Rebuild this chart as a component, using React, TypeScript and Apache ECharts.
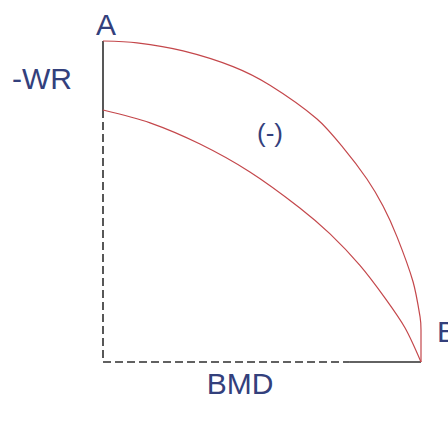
import React, { useEffect, useRef } from "react";
import * as echarts from "echarts";

// BMD (x, 0..100) vs -WR (y, 0..100)
const outerX = [0, 10.7, 25.2, 40.9, 52.5, 67.3, 75.5, 83.0, 88.1, 92.5, 97.5, 99.7, 100, 100];
const outerY = [100, 99.4, 96.9, 92.0, 86.2, 75.7, 66.8, 57.0, 48.5, 38.9, 25.0, 14.1, 10, 0];
const innerX = [0, 14.8, 30.5, 46.2, 61.9, 71.4, 80.8, 88.7, 95.0, 100];
const innerY = [78.5, 74.5, 67.9, 59.2, 48.0, 39.9, 30.1, 19.9, 10.6, 0];
const axisSolidTop = [[0, 100], [0, 78.5]];
const axisDashedLeft = [[0, 78.5], [0, 0], [77.4, 0]];
const axisSolidBottom = [[77.4, 0], [100, 0]];

const zip = (xs: number[], ys: number[]) => xs.map((x, i) => [x, ys[i]]);

export default function App() {
  const ref = useRef<HTMLDivElement>(null);
  useEffect(() => {
    if (!ref.current) return;
    const chart = echarts.init(ref.current, undefined, { renderer: "svg" });
    const red = "#c4474b";
    const dark = "#2e2e2e";
    const txt = "#33407c";
    const font = "Liberation Sans, Arial, sans-serif";
    chart.setOption({
      animation: false,
      backgroundColor: "#ffffff",
      grid: { left: 103, right: 27, top: 41, bottom: 61 },
      xAxis: { type: "value", min: 0, max: 100, show: false },
      yAxis: { type: "value", min: 0, max: 100, show: false },
      series: [
        {
          type: "line", data: axisSolidTop, symbol: "none", clip: false,
          lineStyle: { color: dark, width: 1.6 },
        },
        {
          type: "line", data: axisDashedLeft, symbol: "none", clip: false,
          lineStyle: { color: dark, width: 1.6, type: [8, 4] },
        },
        {
          type: "line", data: axisSolidBottom, symbol: "none", clip: false,
          lineStyle: { color: dark, width: 1.6 },
        },
        {
          type: "line", data: zip(outerX, outerY), symbol: "none", smooth: 0.3, clip: false,
          lineStyle: { color: red, width: 1.2 },
        },
        {
          type: "line", data: zip(innerX, innerY), symbol: "none", smooth: 0.3, clip: false,
          lineStyle: { color: red, width: 1.2 },
        },
      ],
      graphic: [
        { type: "text", x: 106, y: 24, style: { text: "A", fontSize: 30, fontFamily: font, fill: txt, align: "center", verticalAlign: "middle" } },
        { type: "text", x: 42, y: 78, style: { text: "-WR", fontSize: 30, fontFamily: font, fill: txt, align: "center", verticalAlign: "middle" } },
        { type: "text", x: 270, y: 133, style: { text: "(-)", fontSize: 26, fontFamily: font, fill: txt, align: "center", verticalAlign: "middle" } },
        { type: "text", x: 437, y: 331, style: { text: "B", fontSize: 30, fontFamily: font, fill: txt, align: "left", verticalAlign: "middle" } },
        { type: "text", x: 240, y: 383, style: { text: "BMD", fontSize: 30, fontFamily: font, fill: txt, align: "center", verticalAlign: "middle" } },
      ],
    });
    return () => chart.dispose();
  }, []);
  return <div ref={ref} style={{ position: "fixed", left: 0, top: 0, width: 448, height: 423 }} />;
}
